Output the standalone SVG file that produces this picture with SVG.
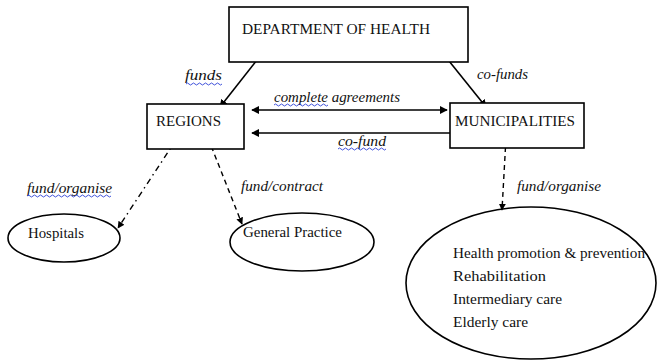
<svg xmlns="http://www.w3.org/2000/svg" width="657" height="360" viewBox="0 0 657 360">
  <style>
    .box { fill: #fff; stroke: #000; stroke-width: 1.6; }
    .oval { fill: none; stroke: #000; stroke-width: 1.6; }
    .lbl { font-family: "Liberation Serif", "DejaVu Serif", serif; font-size: 15px; fill: #111; }
    .it { font-family: "Liberation Serif", "DejaVu Serif", serif; font-size: 14px; font-style: italic; fill: #111; }
    .solid { stroke: #000; stroke-width: 1.6; fill: none; }
    .dashdot { stroke: #000; stroke-width: 1.4; fill: none; stroke-dasharray: 6 4 1.5 4; }
    .dash { stroke: #000; stroke-width: 1.4; fill: none; stroke-dasharray: 5 4; }
    .wave { stroke: #2b3fd6; stroke-width: 0.9; fill: none; }
  </style>
  <defs>
    <marker id="ah" viewBox="0 0 10 10" refX="9" refY="5" markerWidth="8" markerHeight="8" orient="auto-start-reverse" markerUnits="userSpaceOnUse">
      <path d="M0,0 L10,5 L0,10 z" fill="#000"/>
    </marker>
    <marker id="ahs" viewBox="0 0 10 10" refX="9" refY="5" markerWidth="7" markerHeight="7" orient="auto" markerUnits="userSpaceOnUse">
      <path d="M0,0 L10,5 L0,10 z" fill="#000"/>
    </marker>
  </defs>

  <g id="connectors">
    <line class="solid" x1="257" y1="60" x2="220" y2="107" marker-end="url(#ah)"/>
    <line class="solid" x1="445" y1="56" x2="486" y2="107" marker-end="url(#ah)"/>
    <line class="solid" x1="252" y1="110" x2="447" y2="110" marker-start="url(#ah)" marker-end="url(#ah)"/>
    <line class="solid" x1="450" y1="133" x2="252" y2="133" marker-end="url(#ah)"/>
    <line class="dashdot" x1="176" y1="140" x2="118" y2="228" marker-end="url(#ahs)"/>
    <line class="dash" x1="208" y1="138" x2="242" y2="224" marker-end="url(#ahs)"/>
    <line class="dash" x1="506" y1="138" x2="502" y2="210" marker-end="url(#ahs)"/>
  </g>

  <g id="labels">
    <text class="it" x="185" y="80" textLength="37" lengthAdjust="spacingAndGlyphs">funds</text>
    <path class="wave" d="M186,84 q1.5,-2 3,0 t3,0 t3,0 t3,0 t3,0 t3,0 t3,0 t3,0 t3,0 t3,0 t3,0 t3,0"/>
    <text class="it" x="477" y="79" textLength="51" lengthAdjust="spacingAndGlyphs">co-funds</text>
    <text class="it" x="274" y="102" textLength="126" lengthAdjust="spacingAndGlyphs">complete agreements</text>
    <path class="wave" d="M274,105 q1.5,-2 3,0 t3,0 t3,0 t3,0 t3,0 t3,0 t3,0 t3,0 t3,0 t3,0 t3,0 t3,0 t3,0 t3,0 t3,0 t3,0 t3,0 t3,0"/>
    <text class="it" x="338" y="146" textLength="48" lengthAdjust="spacingAndGlyphs">co-fund</text>
    <path class="wave" d="M338,149 q1.5,-2 3,0 t3,0 t3,0 t3,0 t3,0 t3,0 t3,0 t3,0 t3,0 t3,0 t3,0 t3,0 t3,0 t3,0 t3,0 t3,0"/>
    <text class="it" x="27" y="193" textLength="85" lengthAdjust="spacingAndGlyphs">fund/organise</text>
    <path class="wave" d="M27,196 q1.5,-2 3,0 t3,0 t3,0 t3,0 t3,0 t3,0 t3,0 t3,0 t3,0 t3,0 t3,0 t3,0 t3,0 t3,0 t3,0 t3,0 t3,0 t3,0 t3,0 t3,0 t3,0 t3,0 t3,0 t3,0 t3,0 t3,0 t3,0 t3,0"/>
    <text class="it" x="241" y="191" textLength="82" lengthAdjust="spacingAndGlyphs">fund/contract</text>
    <text class="it" x="517" y="191" textLength="84" lengthAdjust="spacingAndGlyphs">fund/organise</text>
  </g>

  <g id="dept-health">
    <rect class="box" x="229" y="7" width="239" height="55"/>
    <text class="lbl" x="242" y="34" textLength="188" lengthAdjust="spacingAndGlyphs">DEPARTMENT OF HEALTH</text>
  </g>

  <g id="regions">
    <rect class="box" x="147" y="104" width="97" height="45"/>
    <text class="lbl" x="156" y="126" textLength="65" lengthAdjust="spacingAndGlyphs">REGIONS</text>
  </g>

  <g id="municipalities">
    <rect class="box" x="450" y="103" width="134" height="45"/>
    <text class="lbl" x="455" y="126" textLength="120" lengthAdjust="spacingAndGlyphs">MUNICIPALITIES</text>
  </g>

  <g id="hospitals">
    <ellipse class="oval" cx="64" cy="238" rx="56" ry="24"/>
    <text class="lbl" x="28" y="238" textLength="56" lengthAdjust="spacingAndGlyphs">Hospitals</text>
  </g>

  <g id="general-practice">
    <ellipse class="oval" cx="302" cy="242" rx="72" ry="29"/>
    <text class="lbl" x="243" y="237" textLength="99" lengthAdjust="spacingAndGlyphs">General Practice</text>
  </g>

  <g id="municipal-services">
    <ellipse class="oval" cx="531" cy="283" rx="125" ry="76"/>
    <text class="lbl" x="453" y="258" textLength="192" lengthAdjust="spacingAndGlyphs">Health promotion &amp; prevention</text>
    <text class="lbl" x="453" y="281" textLength="93" lengthAdjust="spacingAndGlyphs">Rehabilitation</text>
    <text class="lbl" x="453" y="304" textLength="109" lengthAdjust="spacingAndGlyphs">Intermediary care</text>
    <text class="lbl" x="453" y="327" textLength="75" lengthAdjust="spacingAndGlyphs">Elderly care</text>
  </g>
</svg>
